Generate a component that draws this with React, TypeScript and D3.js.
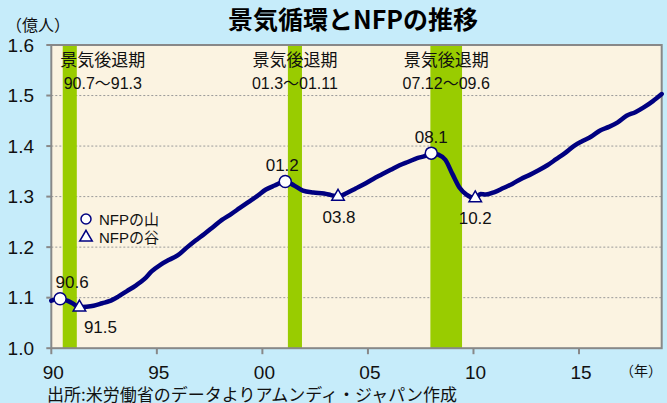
import React from 'react';
import { scaleLinear, line, curveMonotoneX, symbol, symbolTriangle } from 'd3';

const d3 = { scaleLinear, line, curveMonotoneX, symbol, symbolTriangle };

const WIDTH = 667;
const HEIGHT = 403;
const PLOT = { left: 51.3, right: 661.7, top: 45, bottom: 348.2 };

const FONT = "'Liberation Sans', Arial, 'Noto Sans CJK JP', sans-serif";
const JP_FONT = "'Noto Sans CJK JP', 'Liberation Sans', sans-serif";

// US nonfarm payrolls, 100 million persons
const months = [
    '1990-01', '1990-06', '1990-10', '1991-01', '1991-05', '1991-09', '1992-01', '1992-06', '1992-10',
    '1993-03', '1993-08', '1994-01', '1994-06', '1994-10', '1995-03', '1995-08', '1996-01', '1996-06',
    '1996-11', '1997-04', '1997-09', '1998-02', '1998-07', '1998-12', '1999-05', '1999-10', '2000-03',
    '2000-08', '2001-02', '2001-07', '2001-12', '2002-06', '2002-12', '2003-04', '2003-08', '2004-01',
    '2004-06', '2004-11', '2005-04', '2005-09', '2006-02', '2006-07', '2006-12', '2007-05', '2007-10',
    '2008-01', '2008-05', '2008-09', '2009-01', '2009-05', '2009-09', '2010-02', '2010-05', '2010-08',
    '2011-01', '2011-06', '2011-11', '2012-04', '2012-09', '2013-02', '2013-07', '2013-12', '2014-05',
    '2014-10', '2015-03', '2015-08', '2016-01', '2016-06', '2016-11', '2017-04', '2017-09', '2018-02',
    '2018-07', '2018-12',
];
const nfp = [
    1.094, 1.098, 1.094, 1.089, 1.081, 1.082, 1.084, 1.089, 1.093,
    1.102, 1.113, 1.124, 1.137, 1.152, 1.165, 1.175, 1.184, 1.199,
    1.213, 1.226, 1.240, 1.254, 1.265, 1.277, 1.289, 1.301, 1.314,
    1.322, 1.330, 1.322, 1.312, 1.308, 1.306, 1.303, 1.300, 1.307,
    1.316, 1.325, 1.335, 1.344, 1.353, 1.362, 1.369, 1.376, 1.381,
    1.386, 1.383, 1.373, 1.345, 1.318, 1.304, 1.297, 1.305, 1.304,
    1.309, 1.317, 1.325, 1.335, 1.343, 1.352, 1.362, 1.374, 1.386,
    1.400, 1.410, 1.419, 1.431, 1.438, 1.447, 1.460, 1.467, 1.477,
    1.489, 1.503,
];

const recessionStarts = ['1990-07', '2001-03', '2007-12'];
const recessionEnds = ['1991-03', '2001-11', '2009-06'];
const recessionLabels = ['90.7～91.3', '01.3～01.11', '07.12～09.6'];

const peakMonths = ['1990-06', '2001-02', '2008-01'];
const peakLabels = ['90.6', '01.2', '08.1'];
const troughMonths = ['1991-05', '2003-08', '2010-02'];
const troughLabels = ['91.5', '03.8', '10.2'];

const yTicks = [1.0, 1.1, 1.2, 1.3, 1.4, 1.5, 1.6];
const xTicks = [1990, 1995, 2000, 2005, 2010, 2015];
const xTickLabels = ['90', '95', '00', '05', '10', '15'];

const toYear = (m: string) => {
    const [y, mo] = m.split('-').map(Number);
    return y + (mo - 1) / 12;
};

const x = d3.scaleLinear().domain([1990, 2018 + 11 / 12]).range([PLOT.left, PLOT.right]);
const y = d3.scaleLinear().domain([1.0, 1.6]).range([PLOT.bottom, PLOT.top]);

const series = months.map((m, i) => ({ t: toYear(m), v: nfp[i] }));
const valueAt = (m: string) => nfp[months.indexOf(m)];

const NAVY = '#000080';
const GRAY = '#888888';

// small nudges so labels don't sit on the bands / line
const labelNudge: Record<string, number> = { '90.6': 12, '91.5': 21, '01.2': -3, '03.8': 1 };

const triangle = d3.symbol().type(d3.symbolTriangle).size(68)();

const App = () => {
    const path = d3.line<{ t: number; v: number }>()
        .x(d => x(d.t))
        .y(d => y(d.v))
        .curve(d3.curveMonotoneX)(series);

    const bands = recessionStarts.map((s, i) => {
        const x0 = x(toYear(s) + 1 / 24);
        const x1 = x(toYear(recessionEnds[i]) + 1 / 24);
        const half = 17 * 5 / 2;
        const cx = Math.max((x0 + x1) / 2, PLOT.left + 9 + half);
        return { x0, x1, cx, label: recessionLabels[i] };
    });

    return (
        <svg width={WIDTH} height={HEIGHT}
            style={{ position: 'absolute', left: 0, top: 0, display: 'block' }}
            fontFamily={FONT}>
            <rect width={WIDTH} height={HEIGHT} fill="#C6ECFA" />
            <rect x={PLOT.left} y={PLOT.top}
                width={PLOT.right - PLOT.left} height={PLOT.bottom - PLOT.top}
                fill="#FBF3E1" />

            {yTicks.slice(1, -1).map(t => (
                <line key={t} x1={PLOT.left} x2={PLOT.right} y1={y(t)} y2={y(t)}
                    stroke="#9a9a9a" strokeWidth={1} strokeDasharray="2,2" />
            ))}

            {bands.map(b => (
                <rect key={b.label} x={b.x0} y={PLOT.top} width={b.x1 - b.x0}
                    height={PLOT.bottom - PLOT.top} fill="#99CC00" />
            ))}

            <rect x={PLOT.left} y={PLOT.top}
                width={PLOT.right - PLOT.left} height={PLOT.bottom - PLOT.top}
                fill="none" stroke={GRAY} strokeWidth={2} />

            {yTicks.map(t => (
                <g key={t}>
                    <line x1={PLOT.left - 5} x2={PLOT.left} y1={y(t)} y2={y(t)} stroke={GRAY} strokeWidth={2} />
                    <text x={34} y={y(t)} dy="0.35em" textAnchor="end" fontSize={19} fill="#111">
                        {t.toFixed(1)}
                    </text>
                </g>
            ))}

            {xTicks.map((t, i) => (
                <g key={t}>
                    <line x1={x(t)} x2={x(t)} y1={PLOT.bottom} y2={PLOT.bottom + 6} stroke={GRAY} strokeWidth={2} />
                    <text x={x(t) + 2} y={379} textAnchor="middle" fontSize={19} fill="#111">
                        {xTickLabels[i]}
                    </text>
                </g>
            ))}

            {bands.map(b => (
                <g key={`lab-${b.label}`} textAnchor="middle" fill="#111">
                    <text x={b.cx} y={66} fontSize={17} fontFamily={JP_FONT}>景気後退期</text>
                    <text x={b.cx} y={89} fontSize={16}>{b.label}</text>
                </g>
            ))}

            <path d={path || ''} fill="none" stroke={NAVY} strokeWidth={4.5}
                strokeLinejoin="round" strokeLinecap="round" />

            {peakMonths.map((m, i) => {
                const px = x(toYear(m));
                const py = y(valueAt(m));
                const lab = peakLabels[i];
                return (
                    <g key={m}>
                        <circle cx={px} cy={py} r={6} fill="#fff" stroke={NAVY} strokeWidth={1.5} />
                        <text x={px + (labelNudge[lab] || 0)} y={py - 10.5} textAnchor="middle"
                            fontSize={17} fill="#111">{lab}</text>
                    </g>
                );
            })}

            {troughMonths.map((m, i) => {
                const px = x(toYear(m));
                const py = y(valueAt(m));
                const lab = troughLabels[i];
                return (
                    <g key={m}>
                        <path d={triangle || ''} transform={`translate(${px},${py})`}
                            fill="#fff" stroke={NAVY} strokeWidth={1.5} />
                        <text x={px + (labelNudge[lab] || 0)} y={py + 26} textAnchor="middle"
                            fontSize={17} fill="#111">{lab}</text>
                    </g>
                );
            })}

            <g fontSize={15} fill="#111">
                <circle cx={86} cy={219} r={5} fill="#fff" stroke={NAVY} strokeWidth={1.5} />
                <text x={99} y={224.5}>NFPの山</text>
                <path d={triangle || ''} transform="translate(86,237.5)" fill="#fff" stroke={NAVY} strokeWidth={1.5} />
                <text x={99} y={242.5}>NFPの谷</text>
            </g>

            <text x={353} y={29} textAnchor="middle" fontSize={25} fontWeight="bold"
                fontFamily={JP_FONT} fill="#000">景気循環とNFPの推移</text>
            <text x={6} y={31} fontSize={16} fontFamily={JP_FONT} fill="#111">（億人）</text>
            <text x={662} y={376} textAnchor="end" fontSize={14} fontFamily={JP_FONT} fill="#111">（年）</text>
            <text x={47} y={401} fontSize={17} fontFamily={JP_FONT} fill="#111">
                出所:米労働省のデータよりアムンディ・ジャパン作成
            </text>
        </svg>
    );
};

export default App;
